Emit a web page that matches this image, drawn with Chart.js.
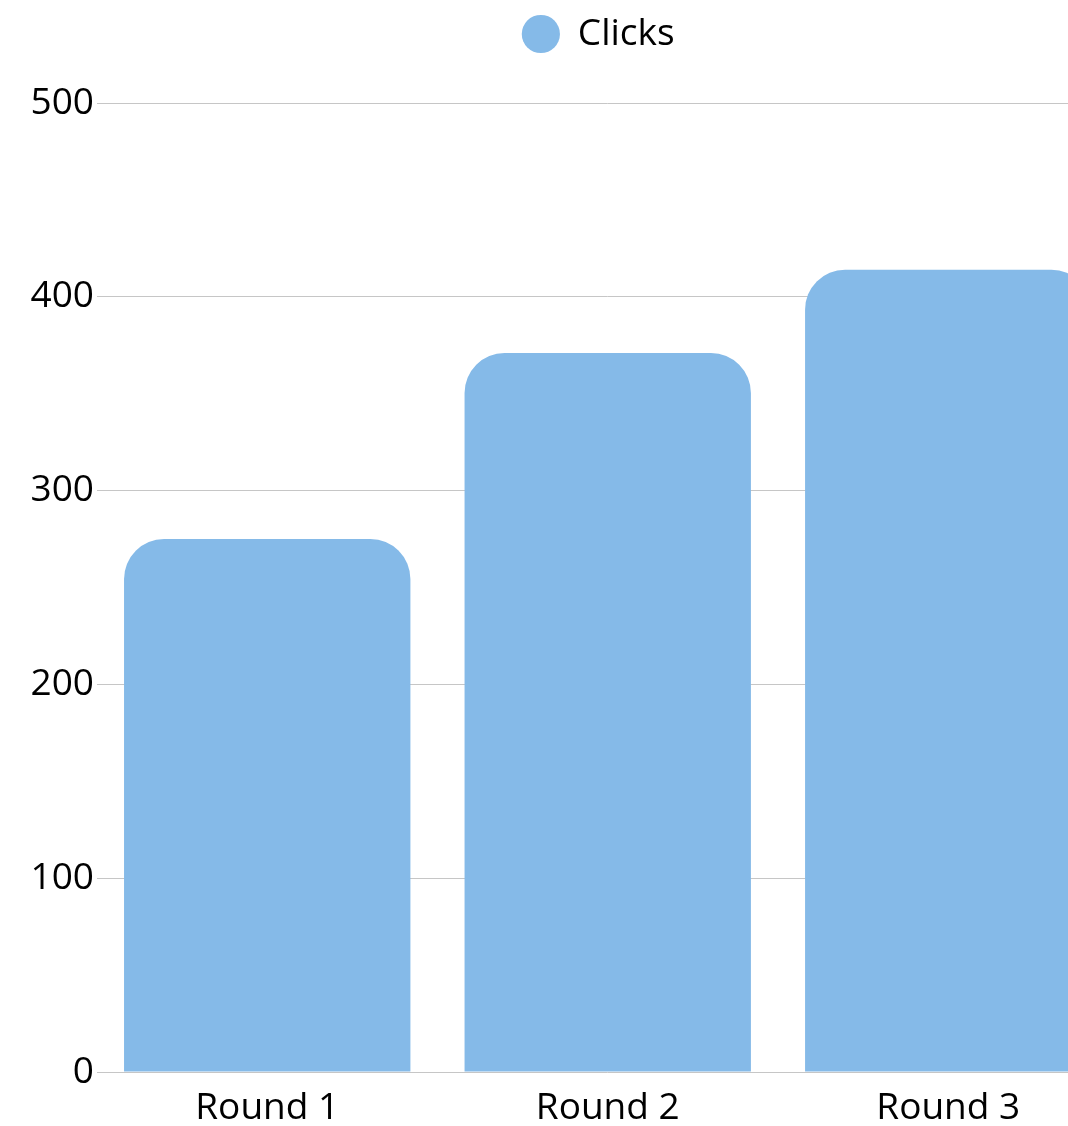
<!DOCTYPE html>
<html>
<head>
<meta charset="utf-8">
<title>Clicks</title>
<script src="https://cdn.jsdelivr.net/npm/chart.js@4.4.1/dist/chart.umd.min.js"></script>
<style>
  html, body { margin: 0; padding: 0; background: #fff; overflow: hidden; }
  .chart-wrap { width: 1170px; height: 1145px; }
</style>
</head>
<body>
<div class="chart-wrap"><canvas id="clicksChart"></canvas></div>
<script>
// Chart data
const rounds = ['Round 1', 'Round 2', 'Round 3'];
const clicks = [275, 371, 414];
const yMin = 0;
const yMax = 500;
const yStep = 100;

Chart.defaults.font.family = '"Open Sans", "Noto Sans", sans-serif';
Chart.defaults.font.size = 37;
Chart.defaults.color = '#000';

// a bit more room between the legend and the plot
const legendSpacing = {
    id: 'legendSpacing',
    beforeLayout(chart) {
        const legend = chart.legend;
        if (legend && !legend._spaced) {
            const fit = legend.fit;
            legend.fit = function () {
                fit.call(this);
                this.height += 40.5;
            };
            legend._spaced = true;
        }
    }
};

const ctx = document.getElementById('clicksChart').getContext('2d');
new Chart(ctx, {
    type: 'bar',
    data: {
        labels: rounds,
        datasets: [{
            label: 'Clicks',
            data: clicks,
            backgroundColor: '#85bae8',
            borderWidth: 0,
            borderRadius: { topLeft: 40, topRight: 40 },
            borderSkipped: 'start',
            barPercentage: 0.841,
            categoryPercentage: 1
        }]
    },
    options: {
        responsive: true,
        maintainAspectRatio: false,
        animation: false,
        layout: {
            padding: { left: 27.5, right: 0.5, top: 0, bottom: 0 }
        },
        plugins: {
            legend: {
                position: 'top',
                labels: {
                    usePointStyle: true,
                    pointStyle: 'circle',
                    boxHeight: 27,
                    padding: 15.5
                }
            },
            tooltip: { enabled: false }
        },
        scales: {
            x: {
                offset: true,
                grid: { display: false, drawTicks: false },
                border: { display: false },
                ticks: { padding: 18, font: { lineHeight: 1 } }
            },
            y: {
                min: yMin,
                max: yMax,
                ticks: { stepSize: yStep, padding: 3 },
                grid: { color: '#c6c6c6', lineWidth: 1, drawTicks: false },
                border: { display: false }
            },
            // empty strip on the right, off screen
            y2: {
                type: 'linear',
                position: 'right',
                ticks: { display: false },
                grid: { display: false, drawTicks: false },
                border: { display: false },
                afterFit(axis) {
                    axis.width = 51;
                }
            }
        }
    },
    plugins: [legendSpacing]
});
</script>
</body>
</html>
